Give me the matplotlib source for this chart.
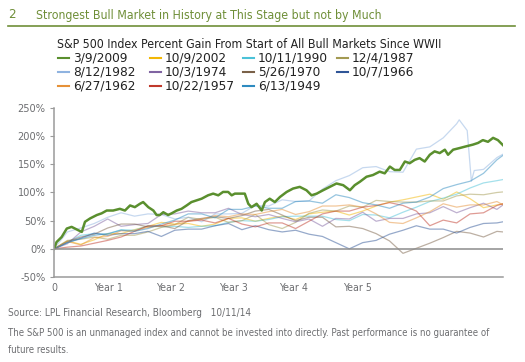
import matplotlib
matplotlib.use("Agg")
import matplotlib.pyplot as plt
from matplotlib.lines import Line2D

W, H = 525, 362
plt.rcParams["font.family"] = ["DejaVu Sans"]
NARROW = dict(family="DejaVu Sans", fontstretch="condensed")

# --- data (percent gain from start of bull market, x in trading days) ---
GREEN_DAYS = [0, 8, 24, 40, 55, 76, 87, 97, 113, 134,
              149, 165, 185, 206, 222, 238, 253, 269, 279, 295,
              311, 321, 331, 342, 357, 368, 384, 399, 415, 430,
              446, 462, 482, 498, 514, 529, 545, 556, 566, 582,
              597, 608, 618, 634, 650, 660, 675, 691, 707, 728,
              748, 769, 790, 806, 822, 842, 863, 884, 905, 926,
              941, 957, 978, 998, 1019, 1035, 1051, 1066, 1082, 1098,
              1113, 1129, 1144, 1160, 1176, 1191, 1207, 1223, 1233, 1249,
              1270, 1290, 1311, 1327, 1342, 1358, 1374, 1389, 1405]
GREEN_VALS = [0, 12, 21, 36, 39, 33, 30, 48, 54, 60,
              63, 68, 68, 71, 68, 77, 74, 80, 83, 74,
              68, 60, 60, 65, 60, 63, 68, 71, 77, 83,
              86, 89, 95, 98, 95, 101, 101, 95, 98, 98,
              98, 80, 74, 80, 68, 83, 89, 83, 92, 101,
              107, 110, 104, 95, 98, 104, 110, 116, 113, 104,
              113, 119, 128, 131, 137, 134, 146, 140, 140, 155,
              152, 158, 161, 155, 167, 173, 170, 176, 167, 176,
              179, 182, 185, 188, 193, 190, 197, 193, 184]

# older bull markets, sampled every ~2 months
HIST_DAYS = list(range(0, 1387, 42)) + [1405]
S2002 = [0, 14, 8, 16, 27, 27, 34, 40, 47, 44, 45, 40, 44, 54, 55, 49, 54, 58,
         52, 62, 65, 67, 60, 67, 76, 83, 87, 92, 97, 88, 101, 89, 73, 78, 80]
S1990 = [0, 12, 24, 27, 26, 34, 33, 41, 39, 40, 38, 40, 41, 47, 50, 49, 52, 57,
         58, 58, 58, 52, 50, 61, 60, 55, 65, 74, 84, 90, 97, 108, 117, 121, 123]
S1987 = [0, 15, 17, 21, 17, 24, 24, 30, 38, 43, 56, 52, 56, 47, 50, 61, 43, 36,
         47, 63, 69, 67, 76, 74, 86, 84, 83, 83, 85, 85, 94, 97, 96, 100, 101]
S1974 = [0, 9, 30, 40, 53, 40, 43, 45, 61, 62, 67, 64, 64, 72, 61, 57, 61, 54,
         48, 53, 40, 54, 53, 65, 49, 54, 54, 62, 64, 75, 64, 73, 81, 70, 78]
S1970 = [0, 13, 21, 26, 37, 44, 44, 39, 41, 36, 50, 54, 57, 54, 59, 67, 70, 60,
         50, 56, 56, 39, 40, 36, 27, 14, -8, 1, 10, 20, 31, 28, 21, 31, 30]
S1966 = [0, 11, 19, 28, 24, 27, 27, 31, 22, 33, 35, 35, 41, 45, 34, 41, 34, 30,
         33, 26, 22, 11, 0, 11, 15, 26, 33, 41, 35, 35, 28, 38, 45, 46, 48]
S1962 = [0, 13, 7, 20, 22, 32, 32, 38, 41, 43, 49, 53, 59, 57, 62, 61, 66, 70,
         61, 66, 76, 76, 78, 74, 62, 47, 45, 55, 66, 80, 74, 78, 78, 84, 78]
S1957 = [0, 3, 5, 10, 15, 21, 31, 41, 41, 49, 49, 51, 46, 54, 44, 39, 46, 46,
         36, 49, 62, 67, 67, 74, 77, 82, 77, 67, 41, 51, 46, 62, 64, 77, 80]
S1949 = [0, 11, 18, 24, 27, 33, 31, 36, 44, 51, 62, 62, 55, 70, 70, 76, 72, 72,
         84, 85, 81, 96, 91, 82, 78, 72, 81, 83, 92, 107, 114, 120, 134, 158, 166]

# 1982 gets extra points around the 1987 crash
DAYS_1982 = list(range(0, 1219, 42)) + [1260, 1268, 1293, 1306, 1315, 1344, 1386, 1405]
S1982 = [0, 30, 37, 45, 56, 64, 58, 62, 61, 53, 56, 48, 62, 62, 63, 77, 76, 87,
         84, 85, 106, 121, 130, 144, 146, 137, 136, 177, 181, 197,
         222, 229, 210, 120, 139, 141, 162, 168]

LABELS = ["3/9/2009", "10/9/2002", "10/11/1990", "12/4/1987",
          "8/12/1982", "10/3/1974", "5/26/1970", "10/7/1966",
          "6/27/1962", "10/22/1957", "6/13/1949"]
COLORS = ["#5a8f2e", "#f2b705", "#4bc2d8", "#a39a52",
          "#8fb3e0", "#8064a2", "#7a6148", "#2f5597",
          "#e69138", "#c0392b", "#2e8bc0"]
XTICK_LABELS = ["0", "Year 1", "Year 2", "Year 3", "Year 4", "Year 5"]
YTICKS = [-50, 0, 50, 100, 150, 200, 250]


def fx(x):
    return x / W


def fy(y):
    return 1 - y / H


fig = plt.figure(figsize=(W / 100, H / 100), dpi=100)

# header
title_green = "#6f8f38"
fig.text(fx(8), fy(15), "2", color=title_green, fontsize=9.5, va="center", **NARROW)
fig.text(fx(36), fy(15), "Strongest Bull Market in History at This Stage but not by Much",
         color=title_green, fontsize=8.8, va="center", **NARROW)
fig.add_artist(Line2D([fx(8), fx(515)], [fy(26), fy(26)], color=title_green, lw=1.2))

# legend, drawn by hand in a 4-column grid
fig.text(fx(57), fy(44), "S&P 500 Index Percent Gain From Start of All Bull Markets Since WWII",
         color="#222222", fontsize=8.8, va="center", **NARROW)
col_x = [58, 150, 243, 337]
row_y = [58, 72, 86]
for i, (lab, col) in enumerate(zip(LABELS, COLORS)):
    r, c = divmod(i, 4)
    x0, y0 = col_x[c], row_y[r]
    fig.add_artist(Line2D([fx(x0), fx(x0 + 11)], [fy(y0), fy(y0)], color=col, lw=1.5))
    fig.text(fx(x0 + 15), fy(y0), lab, color="#222222", fontsize=9.7, va="center", **NARROW)

# chart
ax = fig.add_axes([fx(54), fy(277), fx(503) - fx(54), fy(108) - fy(277)])
series = [(HIST_DAYS, S2002, COLORS[1]), (HIST_DAYS, S1990, COLORS[2]),
          (HIST_DAYS, S1987, COLORS[3]), (DAYS_1982, S1982, COLORS[4]),
          (HIST_DAYS, S1974, COLORS[5]), (HIST_DAYS, S1970, COLORS[6]),
          (HIST_DAYS, S1966, COLORS[7]), (HIST_DAYS, S1962, COLORS[8]),
          (HIST_DAYS, S1957, COLORS[9]), (HIST_DAYS, S1949, COLORS[10])]
for d, v, c in series:
    ax.plot(d, v, color=c, lw=0.9, alpha=0.5)
ax.plot(GREEN_DAYS, GREEN_VALS, color=COLORS[0], lw=1.8)
ax.axhline(0, color="#8c8c8c", lw=1.1)

ax.set_xlim(0, 1405)
ax.set_ylim(-50, 250)
ax.set_yticks(YTICKS)
ax.set_yticklabels([f"{t}%" for t in YTICKS], fontsize=7.8, **NARROW)
# year labels sit where the original put them (not evenly on 252-day years)
ax.set_xticks([0, 169, 366, 560, 748, 949])
ax.set_xticklabels(XTICK_LABELS, fontsize=7.6, **NARROW)
for s in ["top", "right"]:
    ax.spines[s].set_visible(False)
for s in ["left", "bottom"]:
    ax.spines[s].set_color("#9a9a9a")
    ax.spines[s].set_linewidth(1.1)
ax.tick_params(axis="y", colors="#9a9a9a", labelcolor="#6d6e71", length=3, pad=3)
ax.tick_params(axis="x", length=0, labelcolor="#6d6e71", pad=4)

# footnotes
fig.text(fx(8), fy(313), "Source: LPL Financial Research, Bloomberg   10/11/14",
         color="#6d6e71", fontsize=7.2, va="center", **NARROW)
fig.text(fx(8), fy(333), "The S&P 500 is an unmanaged index and cannot be invested into directly. "
         "Past performance is no guarantee of", color="#6d6e71", fontsize=6.9, va="center", **NARROW)
fig.text(fx(8), fy(350), "future results.", color="#6d6e71", fontsize=6.9, va="center", **NARROW)

fig.savefig("out.png", dpi=100)
